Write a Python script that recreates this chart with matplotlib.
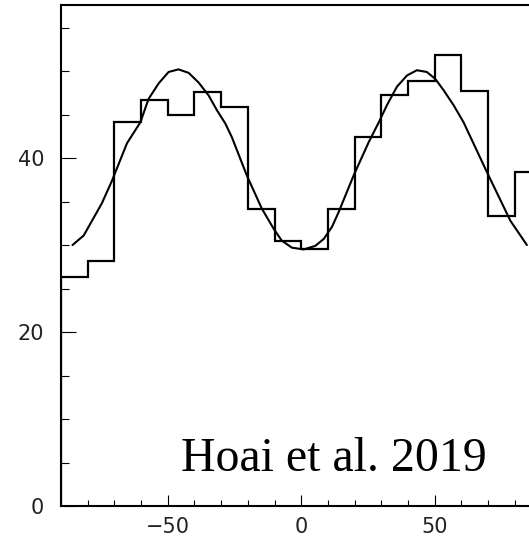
"""plot.py redraws the binned counts with the fitted curve on top.
"""
import numpy as np
import matplotlib as mpl
mpl.use('Agg')
import matplotlib.pyplot as plt

# Histogram: bin edges (10 wide) and counts
bin_edges = [-90, -80, -70, -60, -50, -40, -30, -20, -10, 0,
             10, 20, 30, 40, 50, 60, 70, 80, 90]
counts = [26.3, 28.2, 44.1, 46.7, 45.0, 47.6, 45.9, 34.1, 30.5,
          29.5, 34.1, 42.4, 47.3, 48.9, 51.8, 47.7, 33.3, 38.4]

# Fitted curve, points
curve_x = [-85.7, -81.5, -74.7, -70.9, -65.3, -60.3, -57.2, -53.4,
           -49.7, -46.0, -42.2, -38.5, -34.7, -31.6, -28.5, -26.0,
           -20.4, -14.8, -10.4, -7.3, -3.5, 0.9, 5.2, 8.4, 11.5,
           14.0, 19.6, 25.2, 29.0, 32.1, 35.8, 39.6, 43.3, 47.0,
           50.2, 53.3, 57.0, 60.8, 69.5, 78.3, 84.5]
curve_y = [30.0, 31.1, 34.8, 37.4, 41.7, 44.1, 46.8, 48.6,
           49.9, 50.2, 49.8, 48.7, 47.2, 45.5, 44.0, 42.4,
           38.0, 34.2, 31.9, 30.5, 29.7, 29.5, 29.9, 30.7, 32.1,
           33.8, 38.0, 41.8, 44.1, 46.1, 48.2, 49.5, 50.1, 49.9,
           49.1, 47.8, 46.1, 44.1, 38.4, 32.8, 30.0]

label = 'Hoai et al. 2019'

W, H, DPI = 529, 539, 100
fig = plt.figure(figsize=(W/DPI, H/DPI), dpi=DPI)
# axes run past the right edge of the picture, as in the original
left, right_px, top, bottom = 61, 61 + 180*2.67, 5, 506
ax = fig.add_axes([left/W, (H-bottom)/H, (right_px-left)/W, (bottom-top)/H])

ax.stairs(counts, bin_edges, color='black', lw=1.6)
ax.plot(curve_x, curve_y, color='black', lw=1.5,
        solid_joinstyle='round', solid_capstyle='round')

ax.set_xlim(-90, 90)
ax.set_ylim(0, 57.6)
ax.set_xticks([-50, 0, 50])
ax.set_xticks(np.arange(-80, 90, 10), minor=True)
ax.set_yticks([0, 20, 40])
ax.set_yticks(np.arange(0, 57, 5), minor=True)
ax.set_xticklabels(['\u221250', '0', '50'])

for s in ax.spines.values():
    s.set_linewidth(1.5)
ax.tick_params(axis='both', which='both', direction='in', width=0.8,
               top=False, right=False, labelsize=15, colors='black')
ax.tick_params(axis='x', which='major', length=8, pad=8)
ax.tick_params(axis='x', which='minor', length=4.3)
ax.tick_params(axis='y', which='major', length=10.8, pad=12)
ax.tick_params(axis='y', which='minor', length=5.8)
for t in ax.get_xticklabels() + ax.get_yticklabels():
    t.set_color('#222222')

ax.text(-45.2, 4.0, label, family='Liberation Serif', fontsize=34.5,
        ha='left', va='baseline')

fig.savefig('out.png', dpi=DPI)
